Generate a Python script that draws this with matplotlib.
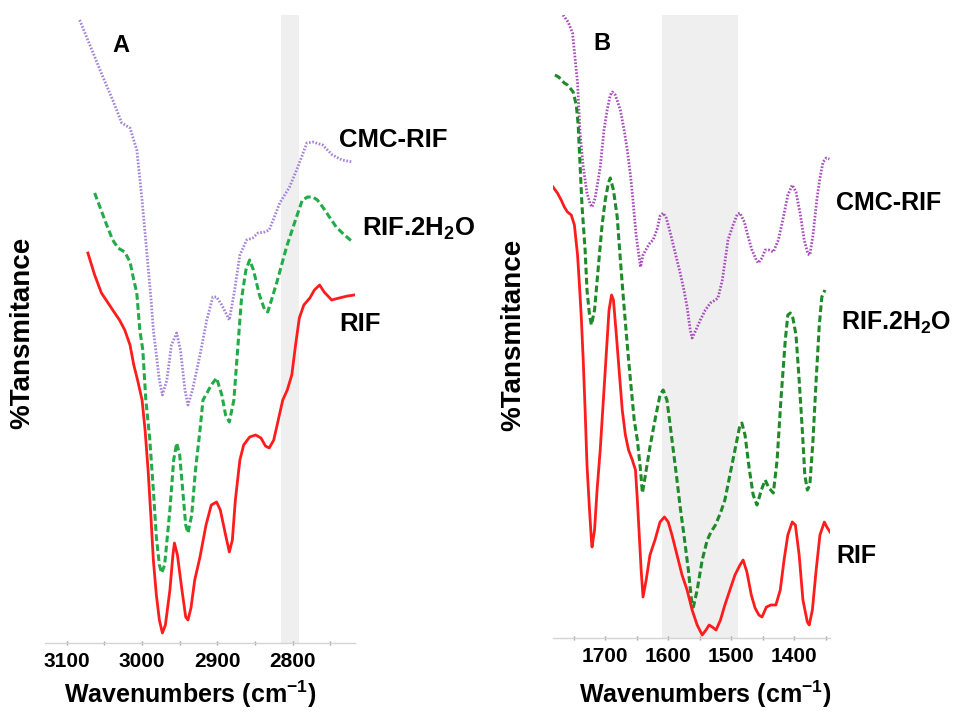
import numpy as np
import matplotlib.pyplot as plt
from matplotlib.ticker import MultipleLocator

plt.rcParams['font.family'] = ['Liberation Sans', 'DejaVu Sans']
plt.rcParams['font.weight'] = 'bold'
plt.rcParams['mathtext.default'] = 'regular'

# ---- Panel A: 3100-2700 cm-1 region (offset transmittance, a.u.) ----
wn_a_cmc = [3083, 3065, 3052, 3039, 3027, 3016, 3007, 3000, 2994, 2988, 2985, 2981,
            2977, 2973, 2967, 2961, 2954, 2949, 2943, 2939, 2933, 2923, 2914, 2906,
            2901, 2894, 2884, 2877, 2870, 2861, 2853, 2846, 2837, 2831, 2817, 2804,
            2793, 2781, 2773, 2760, 2747, 2734, 2720]
t_a_cmc = [623, 590, 566, 543, 520, 515, 493, 443, 393, 343, 313, 288,
           263, 248, 263, 298, 310, 293, 253, 238, 253, 288, 323, 346,
           346, 338, 323, 353, 388, 403, 405, 410, 411, 413, 440, 456,
           476, 500, 501, 498, 488, 483, 481]

wn_a_hyd = [3063, 3056, 3047, 3039, 3032, 3023, 3016, 3011, 3007, 3003, 2999, 2995,
            2990, 2985, 2981, 2977, 2974, 2970, 2963, 2958, 2954, 2950, 2946, 2942,
            2939, 2934, 2929, 2923, 2919, 2913, 2908, 2901, 2894, 2889, 2884, 2878,
            2873, 2868, 2862, 2857, 2852, 2844, 2837, 2833, 2828, 2820, 2808, 2797,
            2787, 2780, 2773, 2767, 2760, 2751, 2742, 2731, 2720]
t_a_hyd = [450, 436, 418, 403, 395, 391, 381, 363, 350, 313, 293, 243,
           206, 153, 106, 78, 70, 78, 133, 183, 200, 188, 153, 118,
           110, 128, 173, 213, 243, 251, 258, 265, 248, 228, 221, 243,
           293, 343, 373, 383, 373, 348, 333, 331, 343, 363, 396, 421,
           443, 446, 446, 443, 436, 426, 416, 408, 401]

wn_a_rif = [3072, 3063, 3054, 3046, 3039, 3030, 3023, 3016, 3011, 3006, 3000, 2996,
            2992, 2988, 2985, 2981, 2977, 2973, 2969, 2963, 2959, 2957, 2953, 2947,
            2942, 2939, 2935, 2930, 2923, 2915, 2908, 2901, 2896, 2889, 2884, 2880,
            2876, 2870, 2865, 2857, 2849, 2842, 2836, 2831, 2825, 2819, 2813, 2807,
            2801, 2796, 2791, 2785, 2777, 2771, 2764, 2758, 2748, 2738, 2727, 2718]
t_a_rif = [390, 368, 350, 341, 333, 323, 313, 298, 278, 263, 243, 213,
           173, 123, 83, 48, 23, 10, 18, 53, 88, 100, 88, 53,
           26, 23, 35, 63, 86, 118, 138, 141, 133, 108, 91, 103,
           143, 183, 198, 206, 208, 205, 197, 195, 203, 223, 243, 253,
           268, 298, 325, 338, 345, 353, 358, 351, 343, 345, 347, 348]

# ---- Panel B: 1780-1340 cm-1 region ----
wn_b_cmc = [1767, 1759, 1752, 1748, 1744, 1740, 1735, 1729, 1724, 1721, 1716, 1708,
            1702, 1697, 1692, 1689, 1684, 1676, 1670, 1665, 1660, 1656, 1651, 1644,
            1640, 1633, 1629, 1624, 1617, 1613, 1608, 1603, 1597, 1590, 1581, 1575,
            1570, 1565, 1562, 1556, 1549, 1541, 1533, 1525, 1521, 1514, 1505, 1497,
            1490, 1486, 1479, 1473, 1467, 1460, 1457, 1451, 1446, 1440, 1433, 1425,
            1417, 1410, 1403, 1397, 1390, 1384, 1378, 1375, 1370, 1364, 1359, 1354,
            1349, 1344]
t_b_cmc = [623, 616, 605, 580, 555, 505, 471, 445, 434, 431, 440, 471,
           508, 528, 543, 546, 543, 528, 508, 488, 463, 438, 403, 371,
           383, 391, 395, 398, 410, 422, 425, 420, 406, 388, 365, 348,
           331, 308, 300, 308, 318, 328, 335, 338, 340, 358, 398, 413,
           424, 425, 416, 401, 388, 378, 375, 380, 388, 388, 386, 398,
           421, 443, 453, 446, 423, 398, 384, 383, 403, 438, 460, 476,
           480, 479]

wn_b_hyd = [1780, 1774, 1765, 1760, 1756, 1751, 1746, 1743, 1740, 1737, 1732, 1729,
            1725, 1722, 1717, 1711, 1705, 1700, 1695, 1692, 1687, 1681, 1676, 1671,
            1665, 1660, 1654, 1649, 1644, 1641, 1637, 1629, 1621, 1613, 1608, 1602,
            1594, 1587, 1581, 1575, 1568, 1563, 1560, 1554, 1546, 1538, 1532, 1525,
            1517, 1510, 1502, 1494, 1486, 1483, 1478, 1471, 1465, 1459, 1452, 1446,
            1440, 1433, 1427, 1421, 1414, 1410, 1406, 1402, 1397, 1392, 1387, 1383,
            1379, 1375, 1370, 1365, 1360, 1356, 1351]
t_b_hyd = [563, 561, 555, 553, 550, 546, 533, 513, 473, 433, 388, 348,
           323, 313, 328, 371, 413, 438, 455, 460, 448, 421, 378, 338,
           293, 258, 218, 198, 168, 145, 160, 191, 218, 243, 248, 238,
           198, 163, 131, 103, 68, 38, 31, 48, 78, 98, 106, 113,
           125, 138, 163, 188, 213, 215, 203, 168, 143, 133, 148, 158,
           150, 145, 178, 238, 298, 323, 325, 320, 303, 258, 208, 163,
           148, 153, 198, 258, 313, 341, 348]

wn_b_rif = [1783, 1776, 1770, 1765, 1760, 1754, 1749, 1744, 1741, 1738, 1735, 1732,
            1729, 1725, 1722, 1721, 1717, 1713, 1708, 1703, 1698, 1694, 1690, 1687,
            1683, 1678, 1673, 1668, 1663, 1657, 1652, 1649, 1646, 1643, 1640, 1635,
            1629, 1621, 1613, 1606, 1600, 1594, 1586, 1578, 1570, 1562, 1554, 1546,
            1540, 1535, 1530, 1524, 1517, 1510, 1502, 1494, 1486, 1481, 1475, 1468,
            1462, 1456, 1451, 1444, 1437, 1429, 1422, 1416, 1410, 1403, 1398, 1392,
            1386, 1379, 1376, 1371, 1365, 1359, 1352, 1348, 1343]
t_b_rif = [451, 445, 438, 431, 426, 423, 413, 383, 353, 320, 278, 228,
           173, 128, 98, 91, 108, 148, 188, 238, 288, 328, 343, 338,
           308, 268, 228, 203, 188, 178, 168, 138, 103, 68, 41, 58,
           83, 98, 116, 121, 116, 103, 83, 63, 48, 28, 13, 3,
           8, 13, 11, 8, 18, 33, 48, 63, 73, 78, 66, 43,
           30, 23, 21, 31, 33, 33, 48, 78, 103, 116, 113, 83,
           38, 16, 13, 28, 68, 103, 116, 111, 106]

bands = {'A': (2791, 2815), 'B': (1489, 1610)}

W, H = 955, 712


def fx(px):
    return px / W


def fy(py):
    return 1 - py / H


fig = plt.figure(figsize=(W / 100, H / 100), dpi=100)
ax_a = fig.add_axes([fx(45), fy(643), 310 / W, 628 / H])
ax_b = fig.add_axes([fx(553), fy(638), 277 / W, 623 / H])

styles = {
    'cmc': dict(ls=(0, (0.6, 0.6)), lw=2.0),
    'hyd': dict(ls=(0, (2.2, 1.1)), lw=2.2),
    'rif': dict(ls='-', lw=2.0),
}

ax_a.axvspan(*bands['A'], color='#efefef', lw=0, zorder=0)
ax_a.plot(wn_a_cmc, t_a_cmc, color='#a484d8', **styles['cmc'])
ax_a.plot(wn_a_hyd, t_a_hyd, color='#22ac48', **styles['hyd'])
ax_a.plot(wn_a_rif, t_a_rif, color='#ff1c1c', **styles['rif'])
ax_a.set_xlim(3129, 2717)
ax_a.set_ylim(0, 628)

ax_b.axvspan(*bands['B'], color='#efefef', lw=0, zorder=0)
ax_b.plot(wn_b_cmc, t_b_cmc, color='#a84cbc', **styles['cmc'])
ax_b.plot(wn_b_hyd, t_b_hyd, color='#1e8a28', **styles['hyd'])
ax_b.plot(wn_b_rif, t_b_rif, color='#ff1c1c', **styles['rif'])
ax_b.set_xlim(1783, 1343)
ax_b.set_ylim(0, 623)

for ax in (ax_a, ax_b):
    for side in ('top', 'right', 'left'):
        ax.spines[side].set_visible(False)
    ax.spines['bottom'].set_color('#d4d4d4')
    ax.spines['bottom'].set_linewidth(1.0)
    ax.set_yticks([])
    ax.xaxis.set_major_locator(MultipleLocator(100))
    ax.xaxis.set_minor_locator(MultipleLocator(50))
    ax.tick_params(axis='x', which='both', direction='inout', length=3,
                   width=1, color='#a0a0a0', labelsize=15, pad=5)
    ax.patch.set_alpha(0)
    for lab in ax.get_xticklabels():
        lab.set_fontweight('bold')

# x labels placed by their vertical centre, close to the bottom edge
fig.text(fx(190), fy(694), 'Wavenumbers (cm$^{-1}$)', fontsize=18,
         ha='center', va='center')
fig.text(fx(705), fy(694), 'Wavenumbers (cm$^{-1}$)', fontsize=18,
         ha='center', va='center')

# panel letters, y labels and curve names
fig.text(fx(121), fy(45), 'A', fontsize=17, ha='center', va='center')
fig.text(fx(602), fy(44), 'B', fontsize=17, ha='center', va='center')
fig.text(fx(22), fy(333), '%Tansmitance', fontsize=20, rotation=90,
         ha='center', va='center')
fig.text(fx(513), fy(335), '%Tansmitance', fontsize=20, rotation=90,
         ha='center', va='center')

fig.text(fx(339), fy(140), 'CMC-RIF', fontsize=18.5, va='center')
fig.text(fx(362), fy(229), 'RIF.2H$_2$O', fontsize=18.5, va='center')
fig.text(fx(339), fy(324), 'RIF', fontsize=18.5, va='center')
fig.text(fx(836), fy(203), 'CMC-RIF', fontsize=18, va='center')
fig.text(fx(841), fy(323), 'RIF.2H$_2$O', fontsize=18, va='center')
fig.text(fx(836), fy(556), 'RIF', fontsize=18, va='center')

fig.savefig('out.png', dpi=100)
plt.close(fig)
